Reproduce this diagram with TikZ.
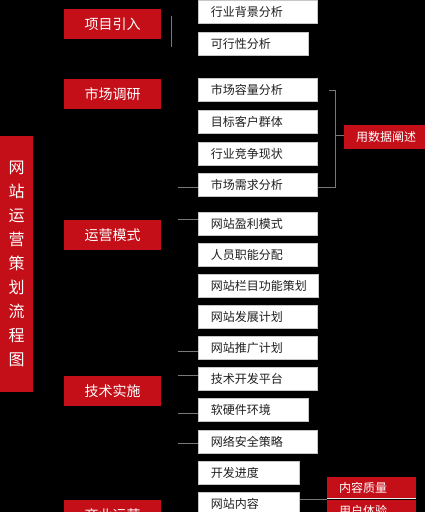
\documentclass[tikz,border=0pt]{standalone}
\usepackage{fontspec}
\setmainfont{Noto Sans CJK SC}
\definecolor{redc}{RGB}{196,14,24}
\definecolor{linec}{RGB}{120,120,120}
\begin{document}
\begin{tikzpicture}[x=1pt,y=-1pt,
  cat/.style={fill=redc, text=white, font=\fontsize{14}{14}\selectfont, minimum width=97pt, minimum height=30pt, inner sep=0pt, anchor=north west},
  item/.style={fill=white, draw=gray!45, line width=0.6pt, text=black!88, font=\fontsize{12}{12}\selectfont, minimum height=23pt, inner ysep=0pt, inner xsep=12.5pt, text width=#1, align=left, anchor=north west},
  tag/.style={fill=redc, text=white, font=\fontsize{12}{12}\selectfont, inner ysep=0pt, inner xsep=12pt, text width=#1, align=left, anchor=north west},
  conn/.style={draw=linec, line width=0.6pt}]
\fill[black] (0,0) rectangle (425,512);
\useasboundingbox (0,0) rectangle (425,512);
% title bar
\node[fill=redc, text=white, font=\fontsize{16}{24}\selectfont, minimum width=33pt, minimum height=256pt, inner sep=0pt, anchor=north west, align=center] (title) at (0,136) {网\\站\\运\\营\\策\\划\\流\\程\\图};
% categories
\node[cat] (c1) at (64,9) {项目引入};
\node[cat] (c2) at (64,79) {市场调研};
\node[cat] (c3) at (64,220) {运营模式};
\node[cat] (c4) at (64,376) {技术实施};
\node[cat] (c5) at (64,500) {商业运营};
% items
\node[item=94pt] (i1) at (198,0) {行业背景分析};
\node[item=85pt] (i2) at (198,32) {可行性分析};
\node[item=94pt] (i3) at (198,78) {市场容量分析};
\node[item=94pt] (i4) at (198,110) {目标客户群体};
\node[item=94pt] (i5) at (198,142) {行业竞争现状};
\node[item=94pt] (i6) at (198,173) {市场需求分析};
\node[item=94pt] (i7) at (198,212) {网站盈利模式};
\node[item=94pt] (i8) at (198,243) {人员职能分配};
\node[item=95pt] (i9) at (198,274) {网站栏目功能策划};
\node[item=94pt] (i10) at (198,305) {网站发展计划};
\node[item=94pt] (i11) at (198,336) {网站推广计划};
\node[item=94pt] (i12) at (198,367) {技术开发平台};
\node[item=85pt] (i13) at (198,398) {软硬件环境};
\node[item=94pt] (i14) at (198,430) {网络安全策略};
\node[item=76pt] (i15) at (198,461) {开发进度};
\node[item=76pt] (i16) at (198,492) {网站内容};
% tags
\node[tag=66pt, minimum height=24pt] (t1) at (344,125) {用数据阐述};
\node[tag=65pt, minimum height=21pt] (t2) at (327,477) {内容质量};
\node[tag=65pt, minimum height=22pt] (t3) at (327,500) {用户体验};
% connectors
\coordinate (v1a) at (171,16);
\coordinate (v1b) at (171,47);
\draw[conn] (v1a) -- (v1b);
\foreach \n/\yy in {i6/187, i7/219, i11/351, i12/375, i13/413, i14/443}{
  \coordinate (s-\n) at (178,\yy);
  \draw[conn] (s-\n) -- (s-\n -| \n.west);
}
\coordinate (bt) at (335,90);
\coordinate (bb) at (335,187);
\coordinate (bm) at (335,135);
\draw[conn] (329,90) -- (bt) -- (bb) -- (bb -| i6.east);
\draw[conn] (bm) -- (bm -| t1.west);
\coordinate (w1) at (i16.east |- 0,499);
\draw[conn] (w1) -- (w1 -| t2.west);
\draw[white!85!gray, line width=0.6pt] (t2.south west) -- (t2.south east);
\end{tikzpicture}
\end{document}
